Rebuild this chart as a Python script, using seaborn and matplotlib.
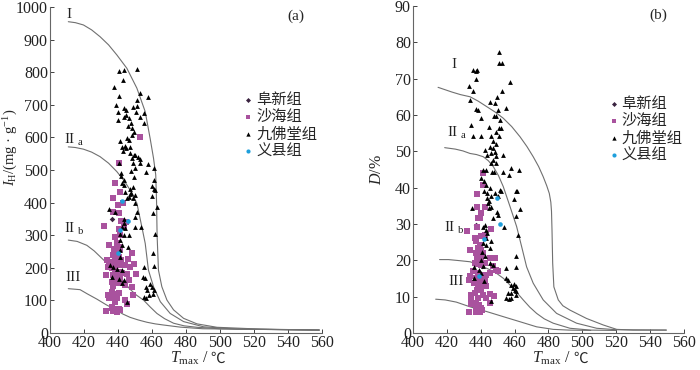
import numpy as np
import pandas as pd
import matplotlib
matplotlib.use("Agg")
import matplotlib.pyplot as plt
import seaborn as sns

# ---------------- data : panel (a)  Tmax vs IH ----------------
a_tri_x = [440.8, 443.7, 451.2, 443, 438, 440.8, 438.8, 443.5, 444.9, 439.8, 452.8, 457.7, 451.4, 451.2,
           455.6, 448.9, 450.8, 452.8, 443.5, 444.8, 446.4, 439.8, 455.2, 447.9, 445.9, 448.4, 449.3, 448.3,
           445.3, 446.5, 441, 444, 442.6, 444.7, 443.3, 447.3, 447.3, 449.3, 450.3, 448.3, 448.9, 451.6,
           452.8, 453.2, 457.7, 456.6, 461.5, 440.6, 441.7, 442.1, 450.2, 447.5, 449.3, 443.7, 442.6, 443.7,
           448.9, 447.3, 459.9, 461.1, 461.5, 444.3, 447.9, 446.9, 450, 446.3, 445.3, 448.9, 450.1, 451.4,
           460.1, 462.1, 460.9, 463, 435, 438.4, 450.2, 443.4, 444.4, 442.4, 443.7, 441.4, 443.4, 446.3,
           450.2, 453.8, 461.7, 441.4, 442.6, 441.4, 445.9, 460.9, 441, 435.5, 437.4, 439.4, 442.4, 440.4,
           442.4, 443.7, 455.2, 461.1, 454.6, 455.7, 456.7, 459.1, 457.2, 460.1, 461.1, 460.7, 455.2, 456.8,
           458.1, 445.3, 436.5]
a_tri_y = [804, 807, 809, 777, 754, 726, 700, 690, 684, 679, 736, 723, 715, 697,
           674, 693, 679, 664, 664, 669, 659, 652, 645, 643, 635, 628, 618, 608,
           597, 592, 589, 575, 572, 567, 558, 572, 551, 546, 546, 536, 523, 541,
           533, 520, 517, 493, 507, 520, 492, 483, 505, 498, 480, 469, 460, 454,
           449, 441, 452, 469, 442, 432, 428, 425, 423, 418, 413, 413, 398, 372,
           420, 439, 367, 387, 380, 372, 357, 351, 321, 326, 336, 305, 300, 300,
           326, 326, 305, 285, 269, 256, 264, 244, 234, 208, 203, 195, 193, 167,
           152, 164, 201, 206, 172, 169, 141, 150, 131, 141, 131, 121, 111, 108,
           116, 95, 172]
a_sq_x = [453.2, 440.8, 438.4, 441.4, 437.4, 439.8, 437, 440.8, 443, 431.9, 441.8, 444.9, 440.8, 443.4,
          438.4, 441.4, 434.5, 439.4, 440.4, 438, 441.5, 439.4, 437.4, 440.4, 438.4, 441.8, 434.5, 437.4,
          439.4, 441.4, 444.3, 447.3, 449.3, 445.9, 448.3, 433.5, 434.1, 436.5, 438.4, 440.4, 442.4, 445.3,
          450.8, 433.1, 437.4, 439.4, 441.4, 438.4, 440.4, 436.5, 446.3, 444.3, 437.4, 448.3, 436.5, 438.4,
          440.4, 433.9, 437.4, 439.4, 434.5, 448.9, 444.3, 445.3, 438.4, 436.8, 438.4, 440.4, 437.4, 439.4,
          433.1, 441.4, 436.8]
a_sq_y = [600, 520, 459, 433, 413, 392, 372, 367, 398, 329, 343, 340, 318, 326,
          295, 300, 269, 275, 264, 259, 259, 249, 239, 234, 223, 223, 218, 213,
          213, 208, 208, 203, 213, 228, 244, 223, 203, 198, 193, 187, 184, 182,
          180, 177, 177, 172, 167, 162, 152, 157, 162, 147, 143, 141, 126, 121,
          123, 116, 111, 108, 106, 116, 100, 90, 95, 80, 75, 75, 68, 65,
          67, 70, 78]
a_blue_x = [442.4, 445.9, 441, 439.8]
a_blue_y = [405, 343, 316, 244]
a_dia_x = [436.8, 438.4]
a_dia_y = [351, 200]

# type curves (a)
a_I_x = [410.8, 415, 419.7, 424.5, 429.5, 434.5, 439.4, 445.3, 451.2, 456.1, 459, 461, 462.3, 462.8, 463.1, 463.9, 465.9, 468.9, 472.8, 478.7, 486.6, 498.4, 524, 558.6]
a_I_y = [955, 952, 945, 930, 909, 884, 853, 812, 751, 679, 597, 536, 485, 400, 300, 193, 142, 101, 71, 45, 28, 17.5, 12, 9]
a_IIa_x = [410.8, 415, 419.7, 424.5, 429.5, 434.5, 439.4, 444, 448, 451.2, 454.1, 456.1, 458, 461, 465, 470.8, 478.7, 490.5, 510, 558.6]
a_IIa_y = [571, 569, 564, 555, 541, 521, 495, 465, 432, 398, 326, 275, 193, 142, 96, 60, 35, 19, 12, 9]
a_IIb_x = [410.8, 416, 421.7, 426, 429.6, 434, 439.4, 443, 447.2, 451, 455.1, 459, 463, 467.5, 472.8, 479, 486.6, 500, 558.6]
a_IIb_y = [285, 281, 269, 252, 234, 212, 182, 160, 134, 116, 101, 80, 60, 44, 30, 22, 17.5, 13, 9]
a_III_x = [410.8, 417.7, 422, 427.6, 433, 439.4, 443, 447.2, 452, 457.1, 462, 466.9, 476.8, 490, 558.6]
a_III_y = [136, 133, 120, 104, 87, 69, 58, 48, 40, 33, 28, 24.5, 18, 13, 9]

# ---------------- data : panel (b)  Tmax vs D ----------------
b_tri_x = [450.8, 450.8, 452.7, 435.4, 437, 438, 437.4, 432.9, 435.4, 452.5, 457.5, 433.5, 449.6, 445.7,
           448.3, 437.4, 438.4, 454.7, 450.2, 447.6, 449.2, 440.3, 434.4, 451.2, 444.9, 450.6, 452.2, 449.2,
           435.4, 440.3, 446.2, 450.6, 447.2, 449.2, 442.3, 445.3, 447.2, 443.7, 448.3, 453.1, 446.2, 449.2,
           447.2, 446.2, 449.2, 443.3, 446.4, 447.6, 441.3, 457.9, 462.4, 453.1, 456.7, 440.3, 441.7, 442.9,
           445.3, 442.1, 443.9, 451.2, 448.3, 452.2, 461, 461.6, 443.9, 446.2, 459.4, 450.2, 445.1, 444.3,
           446.2, 434.8, 444.9, 463, 449.8, 450.2, 461, 447.2, 441.3, 442.3, 453.7, 443.3, 443.7, 462,
           442.9, 441.3, 443.3, 445.3, 446.2, 440.9, 442.3, 461, 440.3, 445.3, 441.3, 447.2, 435.8, 461,
           454.7, 439, 439.9, 435.8, 441.9, 455.1, 456.3, 457.7, 459.4, 460.6, 459, 460, 461, 458,
           456.1, 460.6, 455.1, 456.7, 458, 446.1]
b_tri_y = [77.3, 74.4, 74.2, 72.4, 72.2, 72.4, 69.9, 68, 66.7, 66.7, 69.2, 64.2, 64.9, 63.7,
           63.2, 61.7, 61.4, 61.9, 61.4, 59.6, 59.6, 59.1, 57.3, 58.7, 56.8, 56.4, 56.4, 55.4,
           54.1, 54.1, 54.1, 54.1, 52.7, 52.1, 50.4, 51.3, 50.9, 49, 49.9, 49, 49.5, 48.6,
           47.7, 46.7, 46.7, 44.9, 44.4, 44.2, 44.9, 45.4, 44.9, 44.4, 43.5, 42.6, 41.7, 40.6,
           39.9, 39.2, 38.5, 39.4, 38.5, 39, 39.2, 39, 37.1, 37.6, 36.9, 37.6, 36.2, 35.7,
           34.8, 34.3, 34.4, 34.2, 33.4, 32.5, 32.3, 31.6, 29.3, 29.7, 29.1, 28.4, 27.5, 27,
           26.1, 24.7, 24.3, 23.4, 25.2, 22.3, 21.1, 21.1, 20.2, 19.2, 18.3, 18.6, 18.1, 18.1,
           17.9, 17.2, 16.5, 15.1, 14.2, 15.1, 14.7, 13.3, 13.6, 13, 12.4, 11.9, 11.6, 11,
           11, 10.5, 9.6, 9.3, 9.6, 8.7]
b_sq_x = [441.3, 441.3, 438, 442.3, 438, 440.3, 438.4, 439.8, 431.9, 438, 445.9, 440.3, 442.3, 436.4,
          437.4, 439.4, 433.9, 438.4, 440.3, 437.4, 439.4, 441.3, 438, 440.3, 445.7, 448.3, 436.4, 438.4,
          440.3, 442.3, 448.8, 450.2, 435.4, 438.4, 440.3, 443.3, 445.3, 433.5, 437, 439, 442.3, 432.9,
          435.8, 438.4, 440.3, 443.3, 437.8, 440.3, 436.4, 434.4, 445.3, 447.6, 441.3, 438.4, 443.3, 434.4,
          445.3, 437, 434.4, 439, 437.4, 440.3, 438.4, 432.9, 437, 439.4, 441, 447.2]
b_sq_y = [44, 40.8, 38.3, 34.8, 34.8, 33, 31.6, 31.6, 28, 29.3, 28.7, 26.6, 27, 26.1,
          25.2, 24.3, 22.9, 23.4, 22.9, 22, 21.5, 22, 20.6, 20.3, 20.6, 20.6, 19.2, 19.1,
          18.8, 19.2, 17.4, 17, 17, 16.5, 16, 16, 16.5, 15.6, 15.1, 14.7, 14.7, 14.5,
          13.7, 13.3, 13, 12.8, 11.9, 11.7, 11, 10.5, 10.8, 10.1, 10.5, 9.6, 9.6, 9.2,
          8.2, 8.2, 8.1, 7.8, 6.9, 6.9, 6.2, 5.8, 5.7, 5.7, 6.4, 18.3]
b_blue_x = [449.8, 451.2, 441.7, 439]
b_blue_y = [37.1, 30, 25.8, 15.6]
b_dia_x = [437, 440.5]
b_dia_y = [29.6, 18.5]

b_I_x = [414.8, 423, 428, 433.7, 438.5, 443.5, 448.5, 453.3, 458.3, 463.2, 467.3, 471, 474.2, 476.9, 479, 480.5, 481.4, 481.8, 482.1, 482.5, 483.2, 485.8, 488.5, 492.7, 502.5, 512.4, 520.3, 530, 549.6]
b_I_y = [67.6, 66.3, 65.6, 65.0, 63.8, 62.3, 60.8, 59.1, 56.8, 54.0, 51.3, 48.5, 45.8, 43, 40.5, 38.4, 36, 33.5, 28.3, 19.2, 12.7, 9.1, 7.5, 6.3, 4.0, 2.2, 1.0, 0.8, 0.8]
b_IIa_x = [418.7, 425, 429.5, 433.7, 437.5, 441.5, 444.5, 447.4, 450.5, 453.3, 457.3, 461.2, 464.2, 467.1, 471, 476.9, 484.8, 496.6, 508.5, 520, 549.6]
b_IIa_y = [51.0, 50.6, 50.1, 49.4, 49.1, 48.5, 47.4, 45.8, 43.3, 40.3, 34.8, 29.3, 23.7, 18.2, 13.7, 9.1, 5.4, 2.7, 1.3, 0.9, 0.8]
b_IIb_x = [415.7, 421, 427.6, 433.7, 437.5, 441.5, 445.5, 449.4, 453.5, 457.3, 461.2, 465.1, 469, 473, 477.5, 482.8, 492.7, 505, 520]
b_IIb_y = [20.2, 20.2, 19.9, 19.6, 19.0, 18.2, 17.4, 16.4, 15.0, 13.2, 11.2, 9.1, 7.1, 5.4, 3.9, 2.7, 1.3, 0.8, 0.7]
b_III_x = [413.4, 419, 425.6, 433.7, 443.5, 453.3, 463.2, 473, 482.8, 492, 505]
b_III_y = [9.3, 9.1, 8.5, 7.2, 5.9, 4.5, 3.1, 1.7, 1.0, 0.8, 0.7]

groups = ["阜新组", "沙海组", "九佛堂组", "义县组"]
palette = {"阜新组": "#3a2340", "沙海组": "#a9529e", "九佛堂组": "#000000", "义县组": "#1e9fdc"}
markers = {"阜新组": "D", "沙海组": "s", "九佛堂组": "^", "义县组": "o"}
sizes = {"阜新组": 8, "沙海组": 14, "九佛堂组": 12, "义县组": 11}


def make_df(dia, sq, tri, blue):
    parts = []
    for g, (xs, ys) in zip(groups, [dia, sq, tri, blue]):
        parts.append(pd.DataFrame({"x": xs, "y": ys, "grp": g}))
    return pd.concat(parts, ignore_index=True)


df_a = make_df((a_dia_x, a_dia_y), (a_sq_x, a_sq_y), (a_tri_x, a_tri_y), (a_blue_x, a_blue_y))
df_b = make_df((b_dia_x, b_dia_y), (b_sq_x, b_sq_y), (b_tri_x, b_tri_y), (b_blue_x, b_blue_y))

sns.set_theme(style="ticks")
plt.rcParams['font.family'] = ['Liberation Serif', 'Noto Sans CJK SC', 'DejaVu Sans']
plt.rcParams['mathtext.fontset'] = 'custom'
plt.rcParams['mathtext.rm'] = 'Liberation Serif'
plt.rcParams['mathtext.it'] = 'Liberation Serif:italic'

fig = plt.figure(figsize=(7, 3.7), dpi=100)
ax_a = fig.add_axes([0.0714, 0.10, 0.388, 0.881])
ax_b = fig.add_axes([0.590, 0.10, 0.387, 0.884])

curve_col = "#707070"
fs = 11.5


def draw(ax, df, curves, ylim, yticks, labels, tag, tagpos, leg_anchor):
    for cx, cy in curves:
        ax.plot(cx, cy, color=curve_col, lw=0.8, zorder=1)
    for g in groups:
        sub = df[df.grp == g]
        sns.scatterplot(data=sub, x="x", y="y", ax=ax, color=palette[g], marker=markers[g],
                        s=sizes[g], linewidth=0, label=g, zorder=3)
    ax.set_xlim(400, 560)
    ax.set_ylim(*ylim)
    ax.set_xticks(np.arange(400, 561, 20))
    ax.set_yticks(yticks)
    ax.tick_params(direction="in", length=3, width=0.6, labelsize=fs, colors="#222222", pad=1.5)
    for sp in ["top", "right"]:
        ax.spines[sp].set_visible(False)
    for sp in ["left", "bottom"]:
        ax.spines[sp].set_color("#666666")
        ax.spines[sp].set_linewidth(0.8)
    # x label: math part + the ℃ sign as plain text (mathtext has no ℃ glyph)
    ax.set_xlabel("")
    ax.text(0.585, -0.092, r"$T_{\rm max}$ /", transform=ax.transAxes, ha="right", va="baseline", fontsize=fs)
    ax.text(0.592, -0.092, "℃", transform=ax.transAxes, ha="left", va="baseline", fontsize=fs - 1,
            family=['Noto Sans CJK SC', 'DejaVu Sans'])
    for txt, (tx, ty) in labels:
        ax.text(tx, ty, txt, fontsize=fs - 0.5, ha="left", va="center", color="#222222")
    ax.text(tagpos[0], tagpos[1], tag, fontsize=fs - 0.5, ha="center", va="center")
    leg = ax.legend(loc="upper left", bbox_to_anchor=leg_anchor, frameon=False, fontsize=fs - 0.5,
                    handletextpad=0.0, labelspacing=0.0, borderaxespad=0, handlelength=1.0,
                    markerscale=0.9)
    for t in leg.get_texts():
        t.set_family(['Noto Sans CJK SC', 'DejaVu Sans'])


draw(ax_a, df_a,
     [(a_I_x, a_I_y), (a_IIa_x, a_IIa_y), (a_IIb_x, a_IIb_y), (a_III_x, a_III_y)],
     (0, 1000), np.arange(0, 1001, 100),
     [("I", (409.5, 976)), (r"II $_{\rm a}$", (408, 592)), (r"II $_{\rm b}$", (408, 320)), ("III", (409, 170))],
     "(a)", (545, 973), (0.68, 0.76))
ax_a.set_ylabel(r"$I_{\rm H}$/(mg · g$^{-1}$)", fontsize=fs - 1)
ax_a.yaxis.set_label_coords(-0.112, 0.57)

draw(ax_b, df_b,
     [(b_I_x, b_I_y), (b_IIa_x, b_IIa_y), (b_IIb_x, b_IIb_y), (b_III_x, b_III_y)],
     (0, 90), np.arange(0, 91, 10),
     [("I", (422.5, 73.8)), (r"II $_{\rm a}$", (420, 55)), (r"II $_{\rm b}$", (418.5, 28.9)), ("III", (421, 14.2))],
     "(b)", (545, 87.5), (0.69, 0.745))
ax_b.set_ylabel(r"$D$/%", fontsize=fs)
ax_b.yaxis.set_label_coords(-0.105, 0.5)

fig.savefig("out.png", dpi=100)
